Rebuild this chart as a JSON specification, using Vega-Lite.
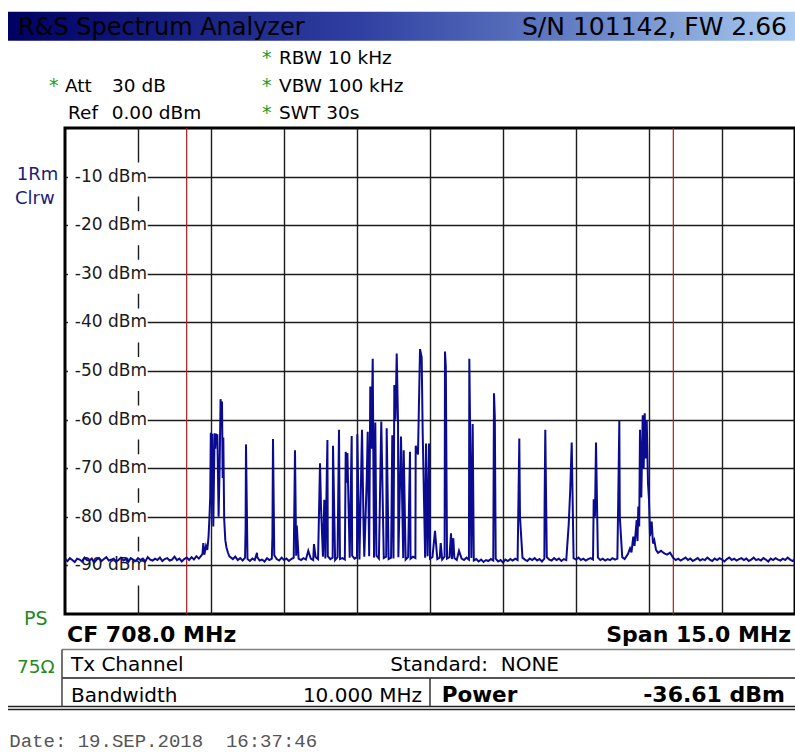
{
  "$schema": "https://vega.github.io/schema/vega-lite/v6.json",
  "width": 730,
  "height": 486,
  "autosize": {"type": "none"},
  "padding": {"left": 65, "top": 128, "right": 0, "bottom": 138},
  "background": "white",
  "config": {
    "view": {"stroke": "#000", "strokeWidth": 3},
    "axis": {"grid": true, "labels": false, "ticks": false, "domain": false, "title": null, "gridColor": "#1c1c1c", "gridWidth": 1.4, "gridOpacity": 1},
    "text": {"font": "DejaVu Sans", "fontSize": 19, "align": "left", "baseline": "alphabetic", "color": "#000"}
  },
  "datasets": {
    "ticks": [
      {"v": -10, "label": "-10 dBm"}, {"v": -20, "label": "-20 dBm"}, {"v": -30, "label": "-30 dBm"},
      {"v": -40, "label": "-40 dBm"}, {"v": -50, "label": "-50 dBm"}, {"v": -60, "label": "-60 dBm"},
      {"v": -70, "label": "-70 dBm"}, {"v": -80, "label": "-80 dBm"}, {"v": -90, "label": "-90 dBm"}
    ],
    "channel": [{"freq": 703.0}, {"freq": 713.0}],
    "trace": [
      {"freq":700.50,"level":-88.7},{"freq":700.55,"level":-89.1},{"freq":700.60,"level":-88.5},{"freq":700.65,"level":-88.9},{"freq":700.70,"level":-89.3},
      {"freq":700.75,"level":-88.6},{"freq":700.80,"level":-88.8},{"freq":700.85,"level":-89.2},{"freq":700.90,"level":-88.4},{"freq":700.95,"level":-88.9},
      {"freq":701.00,"level":-89.0},{"freq":701.05,"level":-88.6},{"freq":701.10,"level":-89.4},{"freq":701.15,"level":-88.8},{"freq":701.20,"level":-88.5},
      {"freq":701.25,"level":-89.1},{"freq":701.30,"level":-88.7},{"freq":701.35,"level":-88.3},{"freq":701.40,"level":-89.0},{"freq":701.45,"level":-88.8},
      {"freq":701.50,"level":-88.6},{"freq":701.55,"level":-89.2},{"freq":701.60,"level":-88.9},{"freq":701.65,"level":-88.4},{"freq":701.70,"level":-89.0},
      {"freq":701.75,"level":-88.7},{"freq":701.80,"level":-89.3},{"freq":701.85,"level":-88.5},{"freq":701.90,"level":-88.8},{"freq":701.95,"level":-89.1},
      {"freq":702.00,"level":-88.5},{"freq":702.05,"level":-88.9},{"freq":702.10,"level":-88.6},{"freq":702.15,"level":-89.2},{"freq":702.20,"level":-88.3},
      {"freq":702.25,"level":-88.8},{"freq":702.30,"level":-89.0},{"freq":702.35,"level":-88.6},{"freq":702.40,"level":-88.9},{"freq":702.45,"level":-88.4},
      {"freq":702.50,"level":-89.1},{"freq":702.55,"level":-88.7},{"freq":702.60,"level":-88.5},{"freq":702.65,"level":-89.0},{"freq":702.70,"level":-88.8},
      {"freq":702.75,"level":-88.2},{"freq":702.80,"level":-88.9},{"freq":702.85,"level":-88.6},{"freq":702.90,"level":-89.2},{"freq":702.95,"level":-88.7},
      {"freq":703.00,"level":-88.4},{"freq":703.05,"level":-88.9},{"freq":703.10,"level":-88.3},{"freq":703.15,"level":-88.8},{"freq":703.20,"level":-88.1},
      {"freq":703.25,"level":-88.6},{"freq":703.30,"level":-88.0},
      {"freq":703.325,"level":-87.6},{"freq":703.342,"level":-85.4},{"freq":703.362,"level":-87.8},{"freq":703.397,"level":-86.0},{"freq":703.424,"level":-86.8},
      {"freq":703.449,"level":-84.2},{"freq":703.469,"level":-80.0},{"freq":703.484,"level":-76.0},{"freq":703.496,"level":-62.7},{"freq":703.510,"level":-66.0},
      {"freq":703.525,"level":-62.9},{"freq":703.547,"level":-82.0},{"freq":703.574,"level":-62.8},{"freq":703.588,"level":-66.0},{"freq":703.603,"level":-62.9},
      {"freq":703.617,"level":-64.0},{"freq":703.631,"level":-63.0},{"freq":703.656,"level":-80.0},{"freq":703.677,"level":-70.0},{"freq":703.697,"level":-55.8},
      {"freq":703.712,"level":-58.0},{"freq":703.726,"level":-56.3},{"freq":703.740,"level":-72.0},{"freq":703.753,"level":-63.7},{"freq":703.771,"level":-80.5},
      {"freq":703.794,"level":-84.8},{"freq":703.818,"level":-86.3},{"freq":703.849,"level":-87.4},{"freq":703.880,"level":-88.2},
      {"freq":703.90,"level":-88.3},{"freq":703.95,"level":-88.7},{"freq":704.00,"level":-88.2},{"freq":704.05,"level":-88.9},{"freq":704.10,"level":-88.5},
      {"freq":704.15,"level":-89.0},{"freq":704.20,"level":-88.4},{"freq":704.211,"level":-82.3},{"freq":704.219,"level":-65.1},{"freq":704.25,"level":-88.7},
      {"freq":704.30,"level":-89.1},{"freq":704.35,"level":-88.6},{"freq":704.40,"level":-88.9},{"freq":704.445,"level":-87.4},{"freq":704.45,"level":-88.3},
      {"freq":704.50,"level":-89.0},{"freq":704.55,"level":-88.8},{"freq":704.60,"level":-89.2},{"freq":704.65,"level":-88.5},{"freq":704.70,"level":-88.9},
      {"freq":704.75,"level":-88.6},{"freq":704.762,"level":-84.0},{"freq":704.774,"level":-64.0},{"freq":704.80,"level":-87.9},{"freq":704.85,"level":-88.7},
      {"freq":704.90,"level":-89.0},{"freq":704.95,"level":-88.4},{"freq":705.00,"level":-88.9},{"freq":705.05,"level":-88.6},{"freq":705.10,"level":-89.1},
      {"freq":705.15,"level":-88.7},{"freq":705.20,"level":-88.4},{"freq":705.226,"level":-66.3},{"freq":705.25,"level":-88.0},{"freq":705.263,"level":-81.8},
      {"freq":705.30,"level":-88.6},{"freq":705.35,"level":-88.9},{"freq":705.40,"level":-88.5},{"freq":705.45,"level":-88.8},{"freq":705.499,"level":-87.0},
      {"freq":705.55,"level":-88.6},{"freq":705.60,"level":-88.9},{"freq":705.616,"level":-85.6},{"freq":705.65,"level":-88.3},{"freq":705.70,"level":-88.7},
      {"freq":705.740,"level":-69.0},{"freq":705.760,"level":-77.9},{"freq":705.80,"level":-88.2},{"freq":705.828,"level":-76.5},{"freq":705.85,"level":-88.6},
      {"freq":705.892,"level":-64.2},{"freq":705.90,"level":-88.1},{"freq":705.95,"level":-88.7},{"freq":706.00,"level":-88.4},{"freq":706.007,"level":-65.4},
      {"freq":706.05,"level":-88.9},{"freq":706.10,"level":-88.3},{"freq":706.130,"level":-62.1},{"freq":706.15,"level":-88.7},{"freq":706.20,"level":-88.5},
      {"freq":706.25,"level":-88.8},{"freq":706.268,"level":-66.6},{"freq":706.284,"level":-73.0},{"freq":706.303,"level":-66.9},{"freq":706.35,"level":-88.4},
      {"freq":706.391,"level":-63.4},{"freq":706.40,"level":-88.0},{"freq":706.45,"level":-88.6},{"freq":706.50,"level":-88.3},{"freq":706.506,"level":-63.0},
      {"freq":706.55,"level":-88.8},{"freq":706.603,"level":-62.1},{"freq":706.638,"level":-83.7},{"freq":706.65,"level":-88.2},{"freq":706.701,"level":-72.0},
      {"freq":706.720,"level":-62.5},{"freq":706.75,"level":-88.1},{"freq":706.773,"level":-53.2},{"freq":706.794,"level":-66.0},{"freq":706.823,"level":-47.5},
      {"freq":706.85,"level":-88.4},{"freq":706.876,"level":-60.6},{"freq":706.90,"level":-88.0},{"freq":706.95,"level":-88.6},{"freq":706.999,"level":-60.4},
      {"freq":707.05,"level":-88.5},{"freq":707.10,"level":-88.2},{"freq":707.110,"level":-61.8},{"freq":707.15,"level":-88.7},{"freq":707.20,"level":-88.4},
      {"freq":707.225,"level":-63.2},{"freq":707.25,"level":-88.6},{"freq":707.267,"level":-52.9},{"freq":707.291,"level":-60.0},{"freq":707.316,"level":-46.4},
      {"freq":707.343,"level":-60.5},{"freq":707.35,"level":-88.3},{"freq":707.404,"level":-63.5},{"freq":707.45,"level":-88.5},{"freq":707.460,"level":-66.3},
      {"freq":707.50,"level":-88.8},{"freq":707.55,"level":-88.3},{"freq":707.589,"level":-66.6},{"freq":707.60,"level":-88.6},{"freq":707.65,"level":-88.2},
      {"freq":707.70,"level":-88.5},{"freq":707.706,"level":-65.4},{"freq":707.753,"level":-67.2},{"freq":707.795,"level":-45.5},{"freq":707.829,"level":-47.2},
      {"freq":707.850,"level":-62.8},{"freq":707.90,"level":-88.4},{"freq":707.918,"level":-64.9},{"freq":707.95,"level":-88.1},{"freq":707.979,"level":-64.9},
      {"freq":708.00,"level":-88.6},{"freq":708.05,"level":-88.3},{"freq":708.103,"level":-82.9},{"freq":708.15,"level":-88.7},{"freq":708.20,"level":-88.4},
      {"freq":708.220,"level":-85.4},{"freq":708.25,"level":-88.8},{"freq":708.30,"level":-88.2},{"freq":708.308,"level":-46.0},{"freq":708.325,"level":-49.1},
      {"freq":708.35,"level":-88.6},{"freq":708.40,"level":-88.3},{"freq":708.432,"level":-83.4},{"freq":708.45,"level":-88.7},{"freq":708.479,"level":-84.4},
      {"freq":708.50,"level":-88.5},{"freq":708.55,"level":-88.9},{"freq":708.596,"level":-87.0},{"freq":708.65,"level":-88.6},{"freq":708.70,"level":-88.9},
      {"freq":708.75,"level":-88.4},{"freq":708.80,"level":-88.8},{"freq":708.808,"level":-47.5},{"freq":708.824,"level":-61.1},{"freq":708.833,"level":-73.0},
      {"freq":708.85,"level":-88.5},{"freq":708.877,"level":-60.9},{"freq":708.90,"level":-89.0},{"freq":708.95,"level":-88.7},{"freq":709.00,"level":-89.2},
      {"freq":709.05,"level":-88.8},{"freq":709.10,"level":-89.3},{"freq":709.15,"level":-88.9},{"freq":709.20,"level":-89.1},{"freq":709.25,"level":-88.7},
      {"freq":709.30,"level":-89.0},{"freq":709.315,"level":-54.6},{"freq":709.332,"level":-59.4},{"freq":709.35,"level":-88.6},{"freq":709.40,"level":-89.2},
      {"freq":709.45,"level":-88.9},{"freq":709.50,"level":-89.4},{"freq":709.55,"level":-88.8},{"freq":709.60,"level":-89.1},{"freq":709.65,"level":-88.7},
      {"freq":709.70,"level":-89.0},{"freq":709.75,"level":-88.6},{"freq":709.80,"level":-88.9},{"freq":709.835,"level":-63.9},{"freq":709.849,"level":-80.0},
      {"freq":709.90,"level":-88.4},{"freq":709.95,"level":-88.8},{"freq":710.00,"level":-89.1},{"freq":710.05,"level":-88.6},{"freq":710.10,"level":-88.9},
      {"freq":710.15,"level":-88.5},{"freq":710.20,"level":-89.0},{"freq":710.25,"level":-88.7},{"freq":710.30,"level":-89.2},{"freq":710.35,"level":-88.6},
      {"freq":710.355,"level":-77.1},{"freq":710.369,"level":-62.1},{"freq":710.40,"level":-88.3},{"freq":710.45,"level":-88.8},{"freq":710.50,"level":-89.0},
      {"freq":710.55,"level":-88.5},{"freq":710.60,"level":-88.9},{"freq":710.65,"level":-88.6},{"freq":710.70,"level":-89.1},{"freq":710.75,"level":-88.7},
      {"freq":710.80,"level":-88.9},{"freq":710.850,"level":-81.6},{"freq":710.883,"level":-74.1},{"freq":710.912,"level":-64.7},{"freq":710.95,"level":-88.5},
      {"freq":711.00,"level":-88.8},{"freq":711.05,"level":-88.4},{"freq":711.10,"level":-88.9},{"freq":711.15,"level":-88.6},{"freq":711.20,"level":-89.0},
      {"freq":711.25,"level":-88.7},{"freq":711.30,"level":-88.5},{"freq":711.35,"level":-88.8},{"freq":711.364,"level":-76.4},{"freq":711.390,"level":-80.0},
      {"freq":711.411,"level":-64.7},{"freq":711.45,"level":-88.4},{"freq":711.50,"level":-88.9},{"freq":711.55,"level":-88.6},{"freq":711.60,"level":-89.0},
      {"freq":711.65,"level":-88.7},{"freq":711.70,"level":-88.9},{"freq":711.75,"level":-88.5},{"freq":711.80,"level":-88.8},{"freq":711.85,"level":-88.6},
      {"freq":711.869,"level":-75.9},{"freq":711.890,"level":-60.3},{"freq":711.900,"level":-80.0},{"freq":711.95,"level":-88.3},{"freq":712.00,"level":-88.7},
      {"freq":712.069,"level":-87.6},{"freq":712.110,"level":-86.5},{"freq":712.140,"level":-87.3},{"freq":712.177,"level":-84.1},{"freq":712.202,"level":-86.0},
      {"freq":712.247,"level":-80.7},{"freq":712.264,"level":-85.0},{"freq":712.280,"level":-77.9},{"freq":712.299,"level":-82.0},{"freq":712.315,"level":-62.1},
      {"freq":712.342,"level":-76.0},{"freq":712.371,"level":-59.1},{"freq":712.391,"level":-70.0},{"freq":712.412,"level":-58.7},{"freq":712.432,"level":-68.0},
      {"freq":712.453,"level":-60.1},{"freq":712.479,"level":-73.0},{"freq":712.500,"level":-76.5},{"freq":712.521,"level":-84.0},{"freq":712.555,"level":-81.0},
      {"freq":712.582,"level":-85.5},{"freq":712.609,"level":-84.8},{"freq":712.644,"level":-86.8},{"freq":712.685,"level":-87.4},{"freq":712.747,"level":-87.0},
      {"freq":712.808,"level":-87.5},{"freq":712.870,"level":-87.8},{"freq":712.932,"level":-87.4},
      {"freq":713.00,"level":-88.5},{"freq":713.05,"level":-88.9},{"freq":713.10,"level":-88.6},{"freq":713.15,"level":-89.0},{"freq":713.20,"level":-88.7},
      {"freq":713.25,"level":-88.4},{"freq":713.30,"level":-88.9},{"freq":713.35,"level":-88.6},{"freq":713.40,"level":-89.1},{"freq":713.45,"level":-88.8},
      {"freq":713.50,"level":-88.5},{"freq":713.55,"level":-89.0},{"freq":713.60,"level":-88.7},{"freq":713.65,"level":-88.9},{"freq":713.70,"level":-88.4},
      {"freq":713.75,"level":-88.8},{"freq":713.80,"level":-89.1},{"freq":713.85,"level":-88.6},{"freq":713.90,"level":-88.9},{"freq":713.95,"level":-88.5},
      {"freq":714.00,"level":-88.8},{"freq":714.05,"level":-89.2},{"freq":714.10,"level":-88.7},{"freq":714.15,"level":-88.4},{"freq":714.20,"level":-88.9},
      {"freq":714.25,"level":-88.6},{"freq":714.30,"level":-89.0},{"freq":714.35,"level":-88.7},{"freq":714.40,"level":-88.5},{"freq":714.45,"level":-88.9},
      {"freq":714.50,"level":-88.6},{"freq":714.55,"level":-89.1},{"freq":714.60,"level":-88.8},{"freq":714.65,"level":-88.4},{"freq":714.70,"level":-88.9},
      {"freq":714.75,"level":-88.7},{"freq":714.80,"level":-89.0},{"freq":714.85,"level":-88.5},{"freq":714.90,"level":-88.8},{"freq":714.95,"level":-89.2},
      {"freq":715.00,"level":-88.6},{"freq":715.05,"level":-88.9},{"freq":715.10,"level":-88.5},{"freq":715.15,"level":-88.8},{"freq":715.20,"level":-89.0},
      {"freq":715.25,"level":-88.6},{"freq":715.30,"level":-88.9},{"freq":715.35,"level":-88.4},{"freq":715.40,"level":-88.8},{"freq":715.45,"level":-89.1},
      {"freq":715.50,"level":-88.7}
    ]
  },
  "layer": [
    {
      "data": {"values": [{}]},
      "mark": {"type": "rect", "color": {"gradient": "linear", "x1": 0, "y1": 0, "x2": 1, "y2": 0, "stops": [{"offset": 0, "color": "#000064"}, {"offset": 0.45, "color": "#3040a2"}, {"offset": 0.75, "color": "#6a86c8"}, {"offset": 1, "color": "#aacbf0"}]}},
      "encoding": {"x": {"datum": 699.329}, "x2": {"datum": 715.5}, "y": {"datum": 23.93}, "y2": {"datum": 17.96}}
    },
    {
      "data": {"name": "ticks"},
      "mark": {"type": "rect", "color": "white", "yOffset": -14, "y2Offset": 20},
      "encoding": {"x": {"datum": 700.56}, "x2": {"datum": 702.2}, "y": {"field": "v", "type": "quantitative"}, "y2": {"field": "v"}}
    },
    {
      "data": {"name": "ticks"},
      "mark": {"type": "text", "align": "right", "baseline": "middle", "fontSize": 17, "color": "#1a1a1a"},
      "encoding": {"x": {"datum": 702.185}, "y": {"field": "v", "type": "quantitative"}, "text": {"field": "label"}}
    },
    {
      "data": {"name": "channel"},
      "mark": {"type": "rule", "color": "#b01c1c", "strokeWidth": 1.2},
      "encoding": {"x": {"field": "freq", "type": "quantitative"}}
    },
    {
      "data": {"name": "trace"},
      "mark": {"type": "line", "color": "#0b0b92", "strokeWidth": 2},
      "encoding": {
        "x": {"field": "freq", "type": "quantitative", "scale": {"domain": [700.5, 715.5], "nice": false, "zero": false}, "axis": {"values": [702, 703.5, 705, 706.5, 708, 709.5, 711, 712.5, 714]}},
        "y": {"field": "level", "type": "quantitative", "scale": {"domain": [-100, 0], "nice": false, "zero": false}, "axis": {"values": [-10, -20, -30, -40, -50, -60, -70, -80, -90]}}
      }
    },
    {"data": {"values": [{}]}, "mark": {"type": "text", "fontSize": 24}, "encoding": {"x": {"datum": 699.534}, "y": {"datum": 19.136}, "text": {"value": "R&S Spectrum Analyzer"}}},
    {"data": {"values": [{}]}, "mark": {"type": "text", "fontSize": 25, "align": "right"}, "encoding": {"x": {"datum": 715.335}, "y": {"datum": 19.136}, "text": {"value": "S/N 101142, FW 2.66"}}},
    {"data": {"values": [{}]}, "mark": {"type": "text", "fontSize": 19, "color": "#1f9a1f"}, "encoding": {"x": {"datum": 704.548}, "y": {"datum": 13.169}, "text": {"value": "*"}}},
    {"data": {"values": [{}]}, "mark": {"type": "text", "fontSize": 18.5}, "encoding": {"x": {"datum": 704.897}, "y": {"datum": 13.169}, "text": {"value": "RBW 10 kHz"}}},
    {"data": {"values": [{}]}, "mark": {"type": "text", "fontSize": 19, "color": "#1f9a1f"}, "encoding": {"x": {"datum": 704.548}, "y": {"datum": 7.407}, "text": {"value": "*"}}},
    {"data": {"values": [{}]}, "mark": {"type": "text", "fontSize": 18.5}, "encoding": {"x": {"datum": 704.897}, "y": {"datum": 7.407}, "text": {"value": "VBW 100 kHz"}}},
    {"data": {"values": [{}]}, "mark": {"type": "text", "fontSize": 19, "color": "#1f9a1f"}, "encoding": {"x": {"datum": 704.548}, "y": {"datum": 1.852}, "text": {"value": "*"}}},
    {"data": {"values": [{}]}, "mark": {"type": "text", "fontSize": 18.5}, "encoding": {"x": {"datum": 704.897}, "y": {"datum": 1.852}, "text": {"value": "SWT 30s"}}},
    {"data": {"values": [{}]}, "mark": {"type": "text", "fontSize": 19, "color": "#1f9a1f"}, "encoding": {"x": {"datum": 700.171}, "y": {"datum": 7.407}, "text": {"value": "*"}}},
    {"data": {"values": [{}]}, "mark": {"type": "text", "fontSize": 18.5}, "encoding": {"x": {"datum": 700.5}, "y": {"datum": 7.407}, "text": {"value": "Att"}}},
    {"data": {"values": [{}]}, "mark": {"type": "text", "fontSize": 18.5}, "encoding": {"x": {"datum": 701.466}, "y": {"datum": 7.407}, "text": {"value": "30 dB"}}},
    {"data": {"values": [{}]}, "mark": {"type": "text", "fontSize": 18.5}, "encoding": {"x": {"datum": 700.562}, "y": {"datum": 1.852}, "text": {"value": "Ref"}}},
    {"data": {"values": [{}]}, "mark": {"type": "text", "fontSize": 18.5}, "encoding": {"x": {"datum": 701.46}, "y": {"datum": 1.852}, "text": {"value": "0.00 dBm"}}},
    {"data": {"values": [{}]}, "mark": {"type": "text", "fontSize": 18, "color": "#1b1b7a"}, "encoding": {"x": {"datum": 699.508}, "y": {"datum": -10.7}, "text": {"value": "1Rm"}}},
    {"data": {"values": [{}]}, "mark": {"type": "text", "fontSize": 18, "color": "#1b1b7a"}, "encoding": {"x": {"datum": 699.473}, "y": {"datum": -15.638}, "text": {"value": "Clrw"}}},
    {"data": {"values": [{}]}, "mark": {"type": "text", "fontSize": 19, "color": "#1f8a1f"}, "encoding": {"x": {"datum": 699.658}, "y": {"datum": -102.263}, "text": {"value": "PS"}}},
    {"data": {"values": [{}]}, "mark": {"type": "text", "fontSize": 22, "fontWeight": "bold"}, "encoding": {"x": {"datum": 700.541}, "y": {"datum": -105.7}, "text": {"value": "CF 708.0 MHz"}}},
    {"data": {"values": [{}]}, "mark": {"type": "text", "fontSize": 22, "fontWeight": "bold", "align": "right"}, "encoding": {"x": {"datum": 715.418}, "y": {"datum": -105.7}, "text": {"value": "Span 15.0 MHz"}}},
    {"data": {"values": [{}]}, "mark": {"type": "text", "fontSize": 18.5, "color": "#1f8a1f"}, "encoding": {"x": {"datum": 699.514}, "y": {"datum": -112.14}, "text": {"value": "75Ω"}}},
    {"data": {"values": [{}]}, "mark": {"type": "text", "fontSize": 20}, "encoding": {"x": {"datum": 700.623}, "y": {"datum": -111.73}, "text": {"value": "Tx Channel"}}},
    {"data": {"values": [{}]}, "mark": {"type": "text", "fontSize": 20, "align": "right"}, "encoding": {"x": {"datum": 710.651}, "y": {"datum": -111.73}, "text": {"value": "Standard:\u00a0\u00a0NONE"}}},
    {"data": {"values": [{}]}, "mark": {"type": "text", "fontSize": 20}, "encoding": {"x": {"datum": 700.623}, "y": {"datum": -118.11}, "text": {"value": "Bandwidth"}}},
    {"data": {"values": [{}]}, "mark": {"type": "text", "fontSize": 20, "align": "right"}, "encoding": {"x": {"datum": 707.836}, "y": {"datum": -118.11}, "text": {"value": "10.000 MHz"}}},
    {"data": {"values": [{}]}, "mark": {"type": "text", "fontSize": 21.5, "fontWeight": "bold"}, "encoding": {"x": {"datum": 708.24}, "y": {"datum": -118.05}, "text": {"value": "Power"}}},
    {"data": {"values": [{}]}, "mark": {"type": "text", "fontSize": 22, "fontWeight": "bold", "align": "right"}, "encoding": {"x": {"datum": 715.295}, "y": {"datum": -118.05}, "text": {"value": "-36.61 dBm"}}},
    {"data": {"values": [{}]}, "mark": {"type": "text", "fontSize": 19, "font": "Liberation Mono", "color": "#555555"}, "encoding": {"x": {"datum": 699.355}, "y": {"datum": -127.45}, "text": {"value": "Date: 19.SEP.2018\u00a0\u00a016:37:46"}}},
    {"data": {"values": [{}]}, "mark": {"type": "rule", "color": "#808080", "strokeWidth": 1.5}, "encoding": {"x": {"datum": 700.438}, "x2": {"datum": 715.5}, "y": {"datum": -107.3}}},
    {"data": {"values": [{}]}, "mark": {"type": "rule", "color": "#555555", "strokeWidth": 2}, "encoding": {"x": {"datum": 700.438}, "x2": {"datum": 715.5}, "y": {"datum": -113.17}}},
    {"data": {"values": [{}]}, "mark": {"type": "rule", "color": "#222222", "strokeWidth": 1.5}, "encoding": {"x": {"datum": 699.329}, "x2": {"datum": 715.5}, "y": {"datum": -119.03}}},
    {"data": {"values": [{}]}, "mark": {"type": "rule", "color": "#222222", "strokeWidth": 1.5}, "encoding": {"x": {"datum": 699.329}, "x2": {"datum": 715.5}, "y": {"datum": -119.65}}},
    {"data": {"values": [{}]}, "mark": {"type": "rule", "color": "#444444", "strokeWidth": 1.5}, "encoding": {"x": {"datum": 700.438}, "y": {"datum": -107.3}, "y2": {"datum": -119.03}}},
    {"data": {"values": [{}]}, "mark": {"type": "rule", "color": "#333333", "strokeWidth": 1.5}, "encoding": {"x": {"datum": 708.0}, "y": {"datum": -113.17}, "y2": {"datum": -119.03}}}
  ]
}
